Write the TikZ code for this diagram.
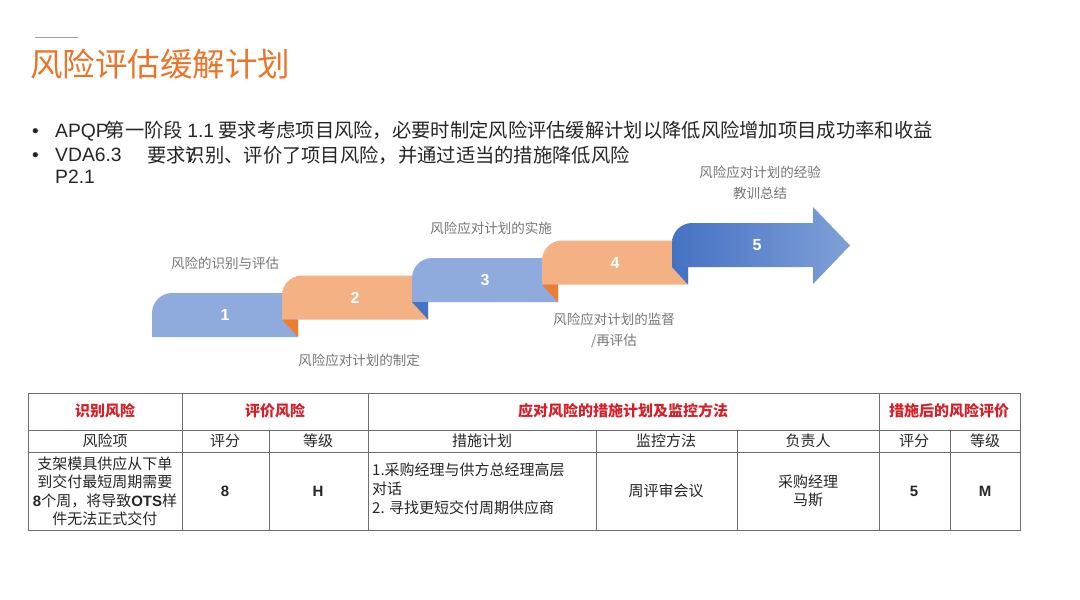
\documentclass[tikz,border=0pt]{standalone}
\usepackage{fontspec}
\setmainfont{Noto Sans CJK SC}
\newfontfamily\arialfont{Liberation Sans}
\usepackage{xcolor}
\usepackage{tikz}
\definecolor{titleorange}{RGB}{234, 116, 40}
\definecolor{bodygray}{RGB}{38, 38, 38}
\definecolor{labelgray}{RGB}{118, 118, 118}
\definecolor{rulegray}{RGB}{160, 160, 160}
\definecolor{stepblue}{RGB}{143, 170, 220}
\definecolor{steporange}{RGB}{244, 177, 131}
\definecolor{folddarkblue}{RGB}{68, 114, 196}
\definecolor{folddarkorange}{RGB}{237, 125, 49}
\definecolor{tablered}{RGB}{214, 32, 40}
\definecolor{tableline}{RGB}{110, 110, 110}

\tikzset{
  bullettext/.style={anchor=west, inner sep=0pt, text=bodygray, font=\fontsize{19.3}{22}\selectfont},
  steplabel/.style={inner sep=0pt, text=labelgray, align=center, font=\fontsize{13.5}{21}\selectfont},
  stepnum/.style={inner sep=0pt, text=white, font=\arialfont\bfseries\fontsize{16}{18}\selectfont},
  headcell/.style={inner sep=0pt, text=tablered, font=\bfseries\fontsize{15}{18}\selectfont},
  bodycell/.style={inner sep=0pt, text=black!85, align=center, font=\fontsize{15}{18.5}\selectfont},
  markcell/.style={inner sep=0pt, text=black!85, font=\arialfont\bfseries\fontsize{15}{18}\selectfont},
}

\begin{document}
\begin{tikzpicture}[x=1pt, y=-1pt]
    \fill[white] (0,0) rectangle (1080,600);
    \useasboundingbox (0,0) rectangle (1080,600);

    % Heading with short rule above
    \draw[rulegray, line width=1pt] (35,37) -- (78,37);
    \node[anchor=west, inner sep=0pt, text=titleorange, font=\fontsize{32.5}{36}\selectfont] (title) at (30,64) {风险评估缓解计划};

    % Requirement bullets
    \node[bullettext, font=\arialfont\fontsize{19}{22}\selectfont] (dotA) at (32,133) {•};
    \node[bullettext] (reqA) at (55,131) {{\arialfont APQP}\kern-3pt 第一阶段 {\arialfont 1.1} 要求考虑项目风险，必要时制定风险评估缓解计划以降低风险增加项目成功率和收益};
    \node[bullettext, font=\arialfont\fontsize{19}{22}\selectfont] (dotB) at (32,157) {•};
    \node[bullettext] (reqB) at (55,155) {\arialfont VDA6.3};
    \node[bullettext] (reqBtext) at (147,155) {要求\rlap{\arialfont 7}识别、评价了项目风险，并通过适当的措施降低风险};
    \node[bullettext] (reqBsub) at (55,177) {\arialfont P2.1};

    % Staircase steps 1-4, each folded under the next one
    \fill[stepblue] (152,337) -- (152,313) .. controls (152,302) and (161,293) .. (172,293) -- (298,293) -- (298,337) -- cycle;
    \fill[steporange] (282,319.5) -- (282,295.5) .. controls (282,284.5) and (291,275.5) .. (302,275.5) -- (428,275.5) -- (428,319.5) -- cycle;
    \fill[folddarkorange] (282,319.5) -- (298,319.5) -- (298,337) -- cycle;
    \fill[stepblue] (412,302) -- (412,278) .. controls (412,267) and (421,258) .. (432,258) -- (558,258) -- (558,302) -- cycle;
    \fill[folddarkblue] (412,302) -- (428,302) -- (428,319.5) -- cycle;
    \fill[steporange] (542,284.5) -- (542,260.5) .. controls (542,249.5) and (551,240.5) .. (562,240.5) -- (688,240.5) -- (688,284.5) -- cycle;
    \fill[folddarkorange] (542,284.5) -- (558,284.5) -- (558,302) -- cycle;

    % Step 5 as the final arrow
    \shade[left color=folddarkblue, middle color=folddarkblue!92!white, right color=folddarkblue!68!white] (672,267) -- (672,243) .. controls (672,232) and (681,223) .. (692,223) -- (813,223) -- (813,207) -- (850,245.5) -- (813,284) -- (813,267) -- cycle;
    \fill[folddarkblue] (672,267) -- (688,267) -- (688,284.5) -- cycle;

    % Step numbers
    \node[stepnum] (num1) at (225,315) {1};
    \node[stepnum] (num2) at (355,297.5) {2};
    \node[stepnum] (num3) at (485,280) {3};
    \node[stepnum] (num4) at (615,262.5) {4};
    \node[stepnum] (num5) at (757,245) {5};

    % Step captions
    \node[steplabel] (capA) at (225,263) {风险的识别与评估};
    \node[steplabel] (capB) at (359,360) {风险应对计划的制定};
    \node[steplabel] (capC) at (491,228) {风险应对计划的实施};
    \node[steplabel] (capD) at (614,330) {风险应对计划的监督\\/再评估};
    \node[steplabel] (capE) at (760,183) {风险应对计划的经验\\教训总结};

    % Risk table grid
    \draw[tableline, line width=0.8pt] (28,393) rectangle (1020,530);
    \draw[tableline, line width=0.8pt] (28,430) -- (1020,430);
    \draw[tableline, line width=0.8pt] (28,452) -- (1020,452);
    \draw[tableline, line width=0.8pt] (182,393) -- (182,530);
    \draw[tableline, line width=0.8pt] (368,393) -- (368,530);
    \draw[tableline, line width=0.8pt] (879,393) -- (879,530);
    \draw[tableline, line width=0.8pt] (269,430) -- (269,530);
    \draw[tableline, line width=0.8pt] (596,430) -- (596,530);
    \draw[tableline, line width=0.8pt] (737,430) -- (737,530);
    \draw[tableline, line width=0.8pt] (950,430) -- (950,530);

    % Group headings
    \node[headcell] (hIdent) at (105,411) {识别风险};
    \node[headcell] (hEval) at (275,411) {评价风险};
    \node[headcell] (hPlan) at (623,411) {应对风险的措施计划及监控方法};
    \node[headcell] (hAfter) at (949,411) {措施后的风险评价};

    % Column headings
    \node[bodycell] (cItem) at (105,441) {风险项};
    \node[bodycell] (cScore) at (225,441) {评分};
    \node[bodycell] (cLevel) at (318,441) {等级};
    \node[bodycell] (cAction) at (482,441) {措施计划};
    \node[bodycell] (cMonitor) at (666,441) {监控方法};
    \node[bodycell] (cOwner) at (808,441) {负责人};
    \node[bodycell] (cScoreB) at (914,441) {评分};
    \node[bodycell] (cLevelB) at (985,441) {等级};

    % Risk entry
    \node[bodycell] (vItem) at (105,491) {支架模具供应从下单\\到交付最短周期需要\\{\arialfont\bfseries 8}个周，将导致{\arialfont\bfseries OTS}样\\件无法正式交付};
    \node[markcell] (vScore) at (225,491) {8};
    \node[markcell] (vLevel) at (318,491) {H};
    \node[bodycell, anchor=west, align=left, font=\fontsize{15}{19}\selectfont] (vAction) at (372,489) {1.采购经理与供方总经理高层\\对话\\2. 寻找更短交付周期供应商};
    \node[bodycell] (vMonitor) at (666,491) {周评审会议};
    \node[bodycell] (vOwner) at (808,491) {采购经理\\马斯};
    \node[markcell] (vScoreB) at (914,491) {5};
    \node[markcell] (vLevelB) at (985,491) {M};
\end{tikzpicture}
\end{document}
